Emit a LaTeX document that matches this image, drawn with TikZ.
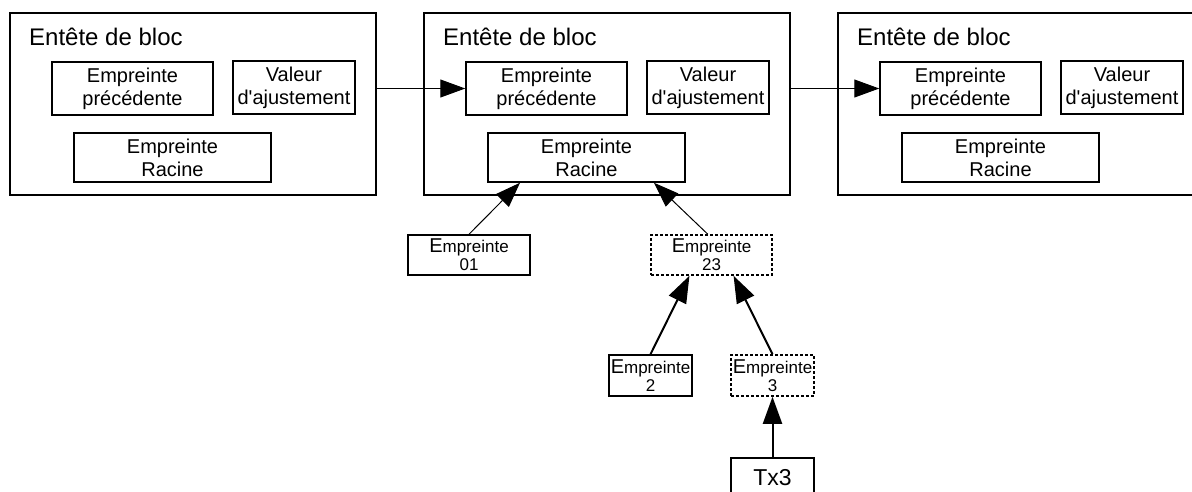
\documentclass[tikz,border=0pt]{standalone}
\usepackage{fontspec}
\newfontfamily\arial{Liberation Sans}
\usetikzlibrary{arrows.meta, calc, positioning}
\newcommand{\grandE}{{\fontsize{20}{18}\selectfont E}}

\begin{document}
\begin{tikzpicture}[
    x=1pt, y=-1pt,
    >={Triangle[length=25pt, width=18pt]},
    bloc/.style={draw, line width=1.5pt, minimum width=366pt, minimum height=182pt, inner sep=0pt},
    champ/.style={draw, line width=1.5pt, align=center, inner sep=0pt, font=\arial\fontsize{20}{23}\selectfont},
    feuille/.style={draw, line width=1.5pt, align=center, inner sep=0pt, minimum height=40pt, font=\arial\fontsize{17}{18}\selectfont},
    pointille/.style={dash pattern=on 3pt off 2pt},
    fleche/.style={->, line width=1pt},
    flechegrasse/.style={->, line width=2pt, >={Triangle[length=27pt, width=19pt]}},
]
\useasboundingbox (0,0) rectangle (1192,491);
% the three block headers, one every 414px
\foreach \i/\dx in {1/0, 2/414, 3/828} {
   \node[bloc] (b\i) at (193+\dx,104) {};
   \node[anchor=base west, inner sep=0pt, font=\arial\fontsize{24}{28}\selectfont] (t\i) at (29+\dx,45) {Entête de bloc};
   \node[champ, minimum width=161pt, minimum height=53pt] (ep\i) at (132.5+\dx,88.5) {Empreinte\\précédente};
   \node[champ, minimum width=122pt, minimum height=53pt] (va\i) at (294+\dx,87.5) {Valeur\\d'ajustement};
   \node[champ, minimum width=197pt, minimum height=49pt] (er\i) at (172.5+\dx,157.5) {Empreinte\\Racine};
}
% chaining: previous hash
\draw[fleche] (b1.east |- ep2.west) -- (ep2.west);
\draw[fleche] (b2.east |- ep3.west) -- (ep3.west);
% merkle tree under the second block (dashed = computed)
\node[feuille, minimum width=122pt] (e01) at (469,255) {\grandE mpreinte\\01};
\node[feuille, pointille, minimum width=121pt] (e23) at (711.5,255) {\grandE mpreinte\\23};
\node[feuille, minimum width=83pt, minimum height=41pt] (e2) at (650.5,375.5) {\grandE mpreinte\\2};
\node[feuille, pointille, minimum width=83pt, minimum height=41pt] (e3) at (772.5,375.5) {\grandE mpreinte\\3};
\node[feuille, minimum width=83pt, font=\arial\fontsize{23}{27}\selectfont] (tx3) at (772.5,478) {Tx3};
\draw[fleche] (e01.north) -- ($(er2.south west)!0.165!(er2.south east)$);
\draw[fleche] ($(e23.north west)!0.47!(e23.north east)$) -- ($(er2.south west)!0.84!(er2.south east)$);
\draw[flechegrasse] (e2.north) -- ($(e23.south west)!0.32!(e23.south east)$);
\draw[flechegrasse] (e3.north) -- ($(e23.south west)!0.68!(e23.south east)$);
\draw[flechegrasse] (tx3) -- (e3);
\end{tikzpicture}
\end{document}
